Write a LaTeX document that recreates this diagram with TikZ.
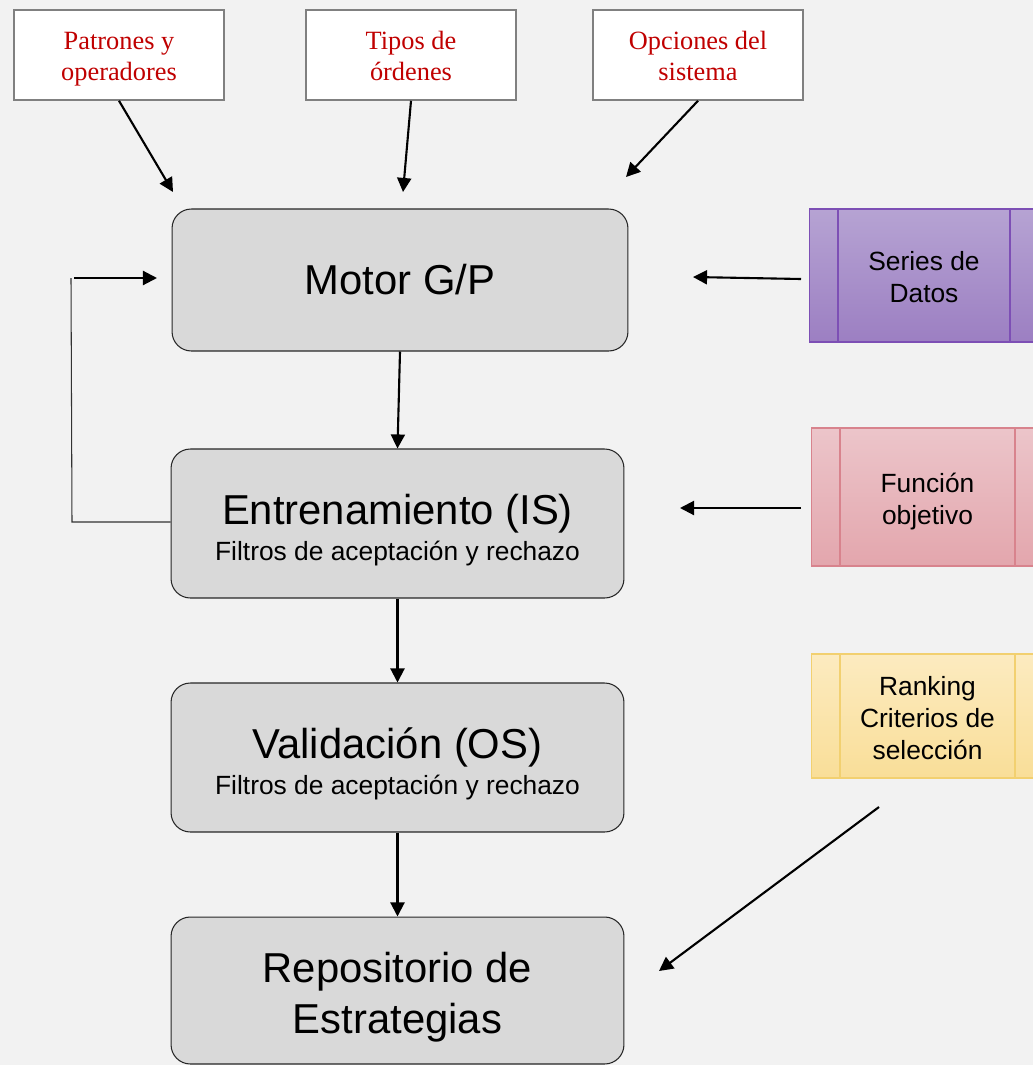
\documentclass[tikz,border=0pt]{standalone}
\usepackage{fontspec}
\setmainfont{Liberation Serif}
\setsansfont{Liberation Sans}
\usetikzlibrary{arrows.meta}

\definecolor{pagebg}{HTML}{F2F2F2}
\definecolor{stagegray}{HTML}{D9D9D9}
\definecolor{inred}{HTML}{C00000}
\definecolor{seriestop}{HTML}{B6A3D3}
\definecolor{seriesbot}{HTML}{9C7FC2}
\definecolor{seriesedge}{HTML}{7D4FB5}
\definecolor{funtop}{HTML}{ECC5CA}
\definecolor{funbot}{HTML}{E3A6AD}
\definecolor{funedge}{HTML}{D8838D}
\definecolor{ranktop}{HTML}{FCEBC0}
\definecolor{rankbot}{HTML}{F9DE98}
\definecolor{rankedge}{HTML}{F2D070}

\newcommand{\bigtxt}{\sffamily\fontsize{23.8}{28.9}\selectfont}
\newcommand{\smalltxt}{\sffamily\fontsize{15}{18.1}\selectfont}
\newcommand{\lift}{\rule{0pt}{24.5pt}}
\newcommand{\inboxtop}{\rule{0pt}{14.8pt}}
\newcommand{\inboxbot}{\rule[-3.3pt]{0pt}{3.3pt}}
\newcommand{\proctop}{\rule{0pt}{16.1pt}}
\newcommand{\procbot}{\rule[-3.2pt]{0pt}{3.2pt}}

\tikzset{
  inbox/.style = {draw = black!50, fill = white, line width = 0.9pt,
    minimum width = 4.2cm, minimum height = 1.8cm, align = center,
    text = inred, font = \fontsize{15}{17.6}\selectfont},
  stage/.style = {draw = black!85, fill = stagegray, line width = 0.6pt,
    rounded corners = 11pt, minimum width = 9.06cm, minimum height = 2.98cm,
    align = center, font = \bigtxt},
  procbox/.style n args = {3}{top color = #1, bottom color = #2, draw = #3,
    line width = 0.6pt, align = center, font = \smalltxt,
    path picture = {
      \draw[#3, line width = 0.8pt]
        ([xshift = 0.58cm]path picture bounding box.north west) --
        ([xshift = 0.58cm]path picture bounding box.south west);
      \draw[#3, line width = 0.8pt]
        ([xshift = -0.58cm]path picture bounding box.north east) --
        ([xshift = -0.58cm]path picture bounding box.south east);
    }},
  arr/.style = {line width = 1.2pt, -{Triangle[length = 8pt, width = 8pt]}},
  loopline/.style = {line width = 0.6pt, black!80}
}

\begin{document}
\begin{tikzpicture}[x = 0.02cm, y = -0.02cm]
    \fill[pagebg] (0,0) rectangle (1033,1065);
    \useasboundingbox (0,0) rectangle (1033,1065);
    \clip (0,0) rectangle (1033,1065);

    % inputs at the top
    \node[inbox] (patrones) at (119,55) {\inboxtop Patrones y\\operadores\inboxbot};
    \node[inbox] (tipos) at (411,55) {\inboxtop Tipos de\\órdenes\inboxbot};
    \node[inbox] (opciones) at (698,55) {\inboxtop Opciones del\\sistema\inboxbot};

    % main flow
    \node[stage, minimum width = 9.12cm, minimum height = 2.84cm] (motor) at (400,280) {Motor G/P};
    \node[stage] (entren) at (397.5,523.5) {\lift Entrenamiento (IS)\\[-8.5pt]\smalltxt Filtros de aceptación y rechazo};
    \node[stage] (valid) at (397.5,757.5) {\lift Validación (OS)\\[-8.5pt]\smalltxt Filtros de aceptación y rechazo};
    \node[stage, minimum height = 2.94cm] (repo) at (397.5,990.5) {\lift Repositorio de\\Estrategias};

    % side processes
    \node[procbox = {seriestop}{seriesbot}{seriesedge}, minimum width = 4.6cm, minimum height = 2.66cm] (series) at (924,275.5) {\proctop Series de\\Datos\procbot};
    \node[procbox = {funtop}{funbot}{funedge}, minimum width = 4.66cm, minimum height = 2.76cm] (funcion) at (927.5,497) {\proctop Función\\objetivo\procbot};
    \node[procbox = {ranktop}{rankbot}{rankedge}, minimum width = 4.66cm, minimum height = 2.48cm] (ranking) at (927.5,716) {\proctop Ranking\\Criterios de\\selección\procbot};

    % free arrow ends
    \coordinate (pEnd) at (173,192);
    \coordinate (tEnd) at (403,192);
    \coordinate (oEnd) at (626,177);
    \coordinate (sStart) at (801,279);
    \coordinate (sEnd) at (693,277);
    \coordinate (fStart) at (801,508);
    \coordinate (fEnd) at (680,508);
    \coordinate (rStart) at (879,807);
    \coordinate (rEnd) at (659,971);
    \coordinate (fbLow) at (72,522);
    \coordinate (fbHigh) at (71,278);
    \coordinate (fbGo) at (74,278);
    \coordinate (fbEnd) at (157,278);

    \draw[arr] (patrones.south) -- (pEnd);
    \draw[arr] (tipos.south) -- (tEnd);
    \draw[arr] (opciones.south) -- (oEnd);
    \draw[arr] (sStart) -- (sEnd);
    \draw[arr] (fStart) -- (fEnd);
    \draw[arr] (rStart) -- (rEnd);

    \draw[arr] (motor.south) -- (entren.north);
    \draw[arr] (entren.south) -- (valid.north);
    \draw[arr] (valid.south) -- (repo.north);

    % feedback loop
    \draw[loopline] (entren.west |- fbLow) -- (fbLow) -- (fbHigh);
    \draw[arr] (fbGo) -- (fbEnd);
\end{tikzpicture}
\end{document}
